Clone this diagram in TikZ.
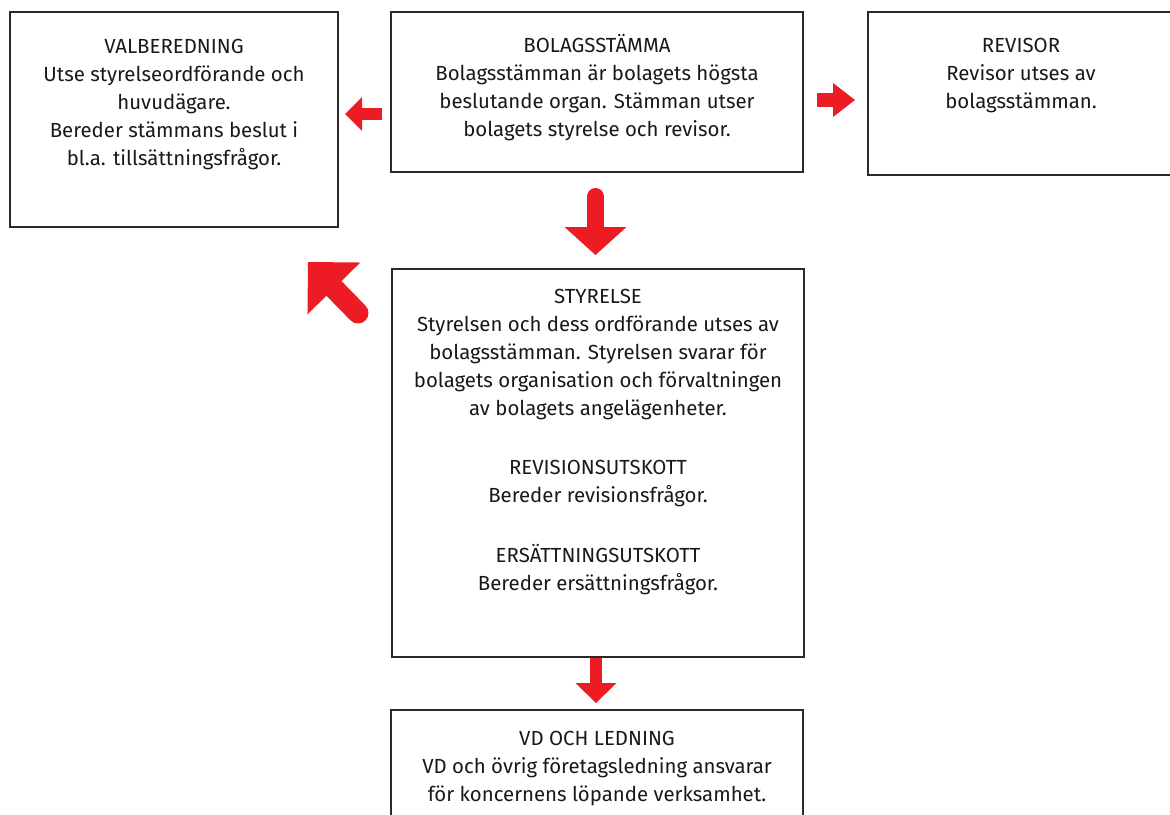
\documentclass[tikz,border=0pt]{standalone}
\usepackage{fontspec}
\setmainfont{Fira Sans}
\usetikzlibrary{arrows.meta,calc}
\definecolor{arrred}{HTML}{ED1C24}
\definecolor{boxline}{HTML}{2A2A2A}
\tikzset{
  box/.style={draw=boxline, line width=1.3pt, fill=none, inner sep=0pt, outer sep=0pt},
  txt/.style={anchor=north, align=center, inner sep=0pt, text=black!90,
    font=\fontsize{20.4}{28}\selectfont},
  blockarr/.style n args={4}{draw=arrred, line width=#1, line cap=#4,
    -{Triangle[line width=0pt, length=#2, width=#3]}},
}
\begin{document}
\begin{tikzpicture}[x=1pt, y=-1pt]
\useasboundingbox (0,0) rectangle (1170,814);
\clip (0,0) rectangle (1170,814);
% boxes
\node[box, minimum width=328pt, minimum height=215pt] (val) at (174,119.5) {};
\node[box, minimum width=412pt, minimum height=160pt] (bol) at (597,92) {};
\node[box, minimum width=306pt, minimum height=163pt] (rev) at (1021,93.5) {};
\node[box, minimum width=412pt, minimum height=388pt] (sty) at (598,463) {};
\node[box, minimum width=412pt, minimum height=160pt] (vd) at (597,790) {};
% texts
\node[txt] (valt) at ($(val.north)+(0,21.4)$) {\strut VALBEREDNING\\Utse styrelseordförande och\\huvudägare.\\Bereder stämmans beslut i\\bl.a. tillsättningsfrågor.};
\node[txt] (bolt) at ($(bol.north)+(0,20.4)$) {\strut BOLAGSSTÄMMA\\Bolagsstämman är bolagets högsta\\beslutande organ. Stämman utser\\bolagets styrelse och revisor.};
\node[txt] (revt) at ($(rev.north)+(0,20.4)$) {\strut REVISOR\\Revisor utses av\\bolagsstämman.};
\node[txt] (styt) at ($(sty.north)+(0,14.4)$) {\strut STYRELSE\\Styrelsen och dess ordförande utses av\\bolagsstämman. Styrelsen svarar för\\bolagets organisation och förvaltningen\\av bolagets angelägenheter.\\[31pt]REVISIONSUTSKOTT\\Bereder revisionsfrågor.\\[32pt]ERSÄTTNINGSUTSKOTT\\Bereder ersättningsfrågor.};
\node[txt] (vdt) at ($(vd.north)+(0,15.4)$) {\strut VD OCH LEDNING\\VD och övrig företagsledning ansvarar\\för koncernens löpande verksamhet.};
% arrows
\draw[blockarr={12pt}{17pt}{34pt}{butt}] ($(bol.north west)+(-9,102)$) -- ($(val.north east)+(7,102)$);
\draw[blockarr={14pt}{22pt}{34pt}{butt}] ($(bol.north east)+(14,88)$) -- ($(rev.north west)+(-13,88)$);
\draw[blockarr={17pt}{28pt}{62pt}{round}] ($(bol.south)+(-1.5,24.5)$) -- ($(sty.north)+(-2.5,-14)$);
\draw[blockarr={21pt}{37pt}{74pt}{round}] ($(sty.north west)+(-34,44)$) -- ($(val.south east)+(-30,35)$);
\draw[blockarr={12pt}{20pt}{41pt}{butt}] ($(sty.south)+(-2,1)$) -- ($(vd.north)+(-1,-7)$);
\end{tikzpicture}
\end{document}
